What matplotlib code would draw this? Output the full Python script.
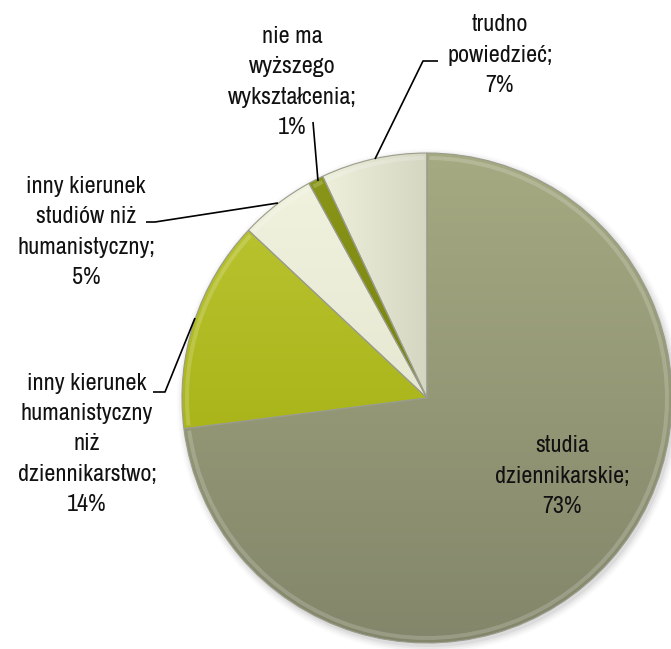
import numpy as np
from matplotlib import pyplot as plt
from matplotlib.colors import to_rgb
from matplotlib.patches import Wedge, Circle

# data (clockwise from 12 o'clock)
labels = [
    "studia\ndziennikarskie;",
    "inny kierunek\nhumanistyczny\nniż\ndziennikarstwo;",
    "inny kierunek\nstudiów niż\nhumanistyczny;",
    "nie ma\nwyższego\nwykształcenia;",
    "trudno\npowiedzieć;",
]
shares = [73, 14, 5, 1, 7]
pct_labels = ["73%", "14%", "5%", "1%", "7%"]

# (colour at one end, colour at other end, direction of gradient)
fills = [
    ("#a5aa82", "#83866a", "v"),
    ("#b8c22e", "#aab51a", "v"),
    ("#f0f2de", "#e6e8d2", "v"),
    ("#8a9618", "#76820e", "v"),
    ("#eef0dc", "#d4d6c2", "h"),
]

H = 649


def py(y):
    # pixel row (from top) -> data y
    return H - y


plt.rcParams["font.family"] = ["Archivo Narrow", "Liberation Sans"]

fig = plt.figure(figsize=(6.71, 6.49), dpi=100)
ax = fig.add_axes([0, 0, 1, 1])

cx, cy, r = 427, py(398), 245

# faint shadow round the pie
for k, a in enumerate([0.05, 0.04, 0.03, 0.02]):
    ax.add_patch(Circle((cx + 2, cy - 3), r + 1 + 2 * k, color="black",
                        alpha=a, lw=0, zorder=0))

wedges, _ = ax.pie(
    shares,
    colors=[f[0] for f in fills],
    startangle=90,
    counterclock=False,
    center=(cx, cy),
    radius=r,
    frame=True,
    wedgeprops=dict(edgecolor="#9a9c8c", linewidth=0.8),
)

for w, (c1, c2, d) in zip(wedges, fills):
    bb = w.get_path().get_extents()
    a, b = np.array(to_rgb(c1)), np.array(to_rgb(c2))
    t = np.linspace(0, 1, 256)
    g = a[None, :] * (1 - t[:, None]) + b[None, :] * t[:, None]
    if d == "v":
        img = g[::-1][:, None, :]  # top colour c1
    else:
        img = g[None, :, :]  # left colour c1
    im = ax.imshow(img, extent=[bb.x0, bb.x1, bb.y0, bb.y1], origin="lower",
                   aspect="auto", zorder=1.5, interpolation="bilinear")
    im.set_clip_path(w)
    w.set_zorder(2)
    w.set_facecolor("none")

# light inner rims for a bevel look
for w in wedges:
    ax.add_patch(Wedge((cx, cy), r - 3, w.theta1 + 0.6, w.theta2 - 0.6,
                       width=4, facecolor="white", alpha=0.18, lw=0,
                       zorder=2.2))

# pick a font size so that "dziennikarstwo;" is about 138 px wide
probe = fig.text(0, 0, "dziennikarstwo;", fontsize=20)
wpx = probe.get_window_extent(fig.canvas.get_renderer()).width
probe.remove()
fs = 20 * 138 / wpx
spacing = 31 / (fs * 100 / 72) * 31 / 26

txt = dict(ha="center", va="center", fontsize=fs, linespacing=spacing,
           color="#111111", zorder=5)
pos = [(562, 476), (87, 444), (86, 232), (292, 82), (500, 55)]
for lab, p, (x, y) in zip(labels, pct_labels, pos):
    ax.text(x, py(y), lab + "\n" + p, **txt)

# leader lines
lk = dict(color="black", lw=1.2, zorder=4, solid_capstyle="butt")
ax.plot([375, 423, 438], [py(159), py(61), py(61)], **lk)
ax.plot([318, 313], [py(181), py(122)], **lk)
ax.plot([278, 155, 146], [py(203), py(222), py(222)], **lk)
ax.plot([195, 165, 153], [py(318), py(392), py(392)], **lk)

ax.set_xlim(0, 671)
ax.set_ylim(0, H)
ax.set_aspect("auto")
ax.axis("off")

fig.savefig("out.png", dpi=100)
